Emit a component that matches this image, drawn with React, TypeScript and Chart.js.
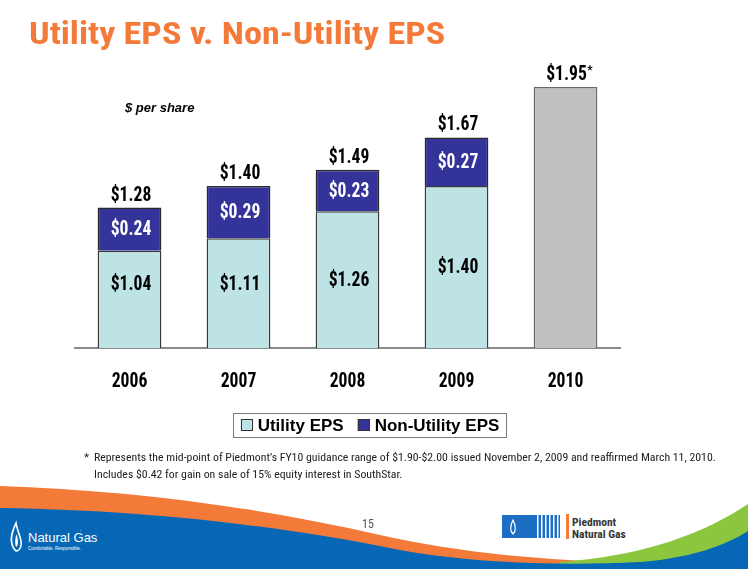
import React, { useEffect, useRef } from 'react';
import { Chart, registerables } from 'chart.js';

Chart.register(...registerables);

// ---------- data ----------
const years = ['2006', '2007', '2008', '2009', '2010'];
const utilityEPS = [1.04, 1.11, 1.26, 1.40, null];
const nonUtilityEPS = [0.24, 0.29, 0.23, 0.27, null];
const guidanceEPS = [null, null, null, null, 1.95];
const totalLabels = ['$1.28', '$1.40', '$1.49', '$1.67', '$1.95*'];
const yMin = 0.5;
const yMax = 2.0;

const NARROW = '"Roboto Condensed", "Liberation Sans Narrow", "Arial Narrow", sans-serif';
const SANS = '"Liberation Sans", Arial, Helvetica, sans-serif';
const VALUE_FONT = `bold 20px ${NARROW}`;

function drawCondensed(ctx: any, text: string, x: number, y: number, sx: number, font: string, align = 'center') {
  ctx.save();
  ctx.font = font;
  ctx.textAlign = align;
  ctx.textBaseline = 'alphabetic';
  ctx.translate(x, y);
  ctx.scale(sx, 1);
  ctx.fillText(text, 0, 0);
  ctx.restore();
}

const labelsPlugin = {
  id: 'barLabels',
  afterDatasetsDraw(chart: any) {
    const ctx = chart.ctx;
    const area = chart.chartArea;
    ctx.save();
    chart.data.datasets.forEach((ds: any, di: number) => {
      if (!ds.inner) return;
      const meta = chart.getDatasetMeta(di);
      meta.data.forEach((bar: any, i: number) => {
        const v = ds.data[i];
        if (v == null) return;
        const { x, y, base } = bar.getProps(['x', 'y', 'base'], true);
        const bottom = Math.min(base, area.bottom);
        let cy = (y + bottom) / 2 - 1;
        if (ds.clampLabel) cy = Math.min(cy, area.bottom - 65);
        ctx.fillStyle = ds.labelColor;
        drawCondensed(ctx, '$' + v.toFixed(2), x + 1.5, cy + 7, 0.88, VALUE_FONT);
      });
    });
    // totals above bars
    years.forEach((_, i) => {
      let top = Infinity;
      let x = 0;
      chart.data.datasets.forEach((ds: any, di: number) => {
        if (ds.data[i] == null) return;
        const el = chart.getDatasetMeta(di).data[i];
        if (el.y < top) {
          top = el.y;
          x = el.x;
        }
      });
      ctx.fillStyle = '#000';
      const txt = totalLabels[i];
      if (txt.endsWith('*')) {
        const main = txt.slice(0, -1);
        ctx.font = VALUE_FONT;
        const w = ctx.measureText(main).width * 0.88;
        drawCondensed(ctx, main, x + 1, top - 7, 0.88, VALUE_FONT);
        drawCondensed(ctx, '*', x + 1 + w / 2 + 0.5, top - 13, 0.9, `bold 13px ${NARROW}`, 'left');
      } else {
        drawCondensed(ctx, txt, x + 1.5, top - 7, 0.88, VALUE_FONT);
      }
    });
    ctx.restore();
  },
  afterDraw(chart: any) {
    const ctx = chart.ctx;
    const area = chart.chartArea;
    // x tick labels, drawn condensed at the scale's tick positions
    const xs = chart.scales.x;
    ctx.save();
    ctx.fillStyle = '#000';
    xs.ticks.forEach((t: any, i: number) => {
      const px = xs.getPixelForTick(i);
      drawCondensed(ctx, String(xs.getLabelForValue(t.value)), px, area.bottom + 39, 0.84, `bold 21px ${NARROW}`);
    });
    ctx.restore();

    // legend with frame
    const items = chart.data.datasets.filter((d: any) => d.showInLegend);
    ctx.save();
    ctx.font = `bold 17px ${SANS}`;
    const box = 12;
    const gap = 5;
    const itemGap = 14;
    const widths = items.map((d: any) => box + gap + ctx.measureText(d.label).width);
    const total = widths.reduce((a: number, b: number) => a + b, 0) + itemGap * (items.length - 1);
    const cx = chart.width / 2 - 4;
    const cy = area.bottom + 77;
    const left = cx - total / 2;
    ctx.strokeStyle = '#7a7a7a';
    ctx.lineWidth = 1;
    ctx.strokeRect(Math.round(left - 8) + 0.5, Math.round(cy - 12) + 0.5, Math.round(total + 14), 24);
    let x = left;
    items.forEach((d: any, k: number) => {
      ctx.fillStyle = d.backgroundColor;
      ctx.fillRect(x, cy - box / 2, box, box);
      ctx.strokeStyle = '#333';
      ctx.lineWidth = 1;
      ctx.strokeRect(Math.round(x) + 0.5, Math.round(cy - box / 2) + 0.5, box - 1, box - 1);
      ctx.fillStyle = '#000';
      ctx.textAlign = 'left';
      ctx.textBaseline = 'middle';
      ctx.fillText(d.label, x + box + gap, cy + 1);
      x += widths[k] + itemGap;
    });
    ctx.restore();
  },
};

function EpsChart() {
  const ref = useRef<HTMLCanvasElement | null>(null);
  useEffect(() => {
    if (!ref.current) return;
    const chart = new Chart(ref.current, {
      type: 'bar',
      data: {
        labels: years,
        datasets: [
          {
            label: 'Utility EPS',
            data: utilityEPS,
            backgroundColor: '#BDE3E5',
            borderColor: '#3a3a3a',
            borderWidth: 1.5,
            clip: 0,
            showInLegend: true,
            inner: true,
            clampLabel: true,
            labelColor: '#000',
          } as any,
          {
            label: 'Non-Utility EPS',
            data: nonUtilityEPS,
            backgroundColor: '#333399',
            borderColor: '#2a2a2a',
            borderWidth: 1.5,
            clip: 0,
            showInLegend: true,
            inner: true,
            labelColor: '#fff',
          } as any,
          {
            label: 'FY10 Guidance',
            data: guidanceEPS,
            backgroundColor: '#C0C0C0',
            borderColor: '#6a6a6a',
            borderWidth: 1.5,
            clip: 0,
            showInLegend: false,
            inner: false,
          } as any,
        ],
      },
      options: {
        animation: false,
        responsive: false,
        maintainAspectRatio: false,
        datasets: { bar: { barPercentage: 0.585, categoryPercentage: 1 } },
        layout: { padding: { left: 75, right: 128, top: 78, bottom: 155 } },
        plugins: { legend: { display: false }, tooltip: { enabled: false } },
        scales: {
          x: {
            stacked: true,
            z: 1,
            grid: { display: false, drawTicks: false },
            border: { display: true, color: '#8a8a8a', width: 2 },
            ticks: { color: 'rgba(0,0,0,0)', font: { family: NARROW, size: 20, weight: 'bold' }, padding: 21 },
          },
          y: { stacked: true, display: false, min: yMin, max: yMax },
        },
      } as any,
      plugins: [labelsPlugin],
    });
    return () => chart.destroy();
  }, []);
  return (
    <canvas
      ref={ref}
      width={748}
      height={569}
      style={{ position: 'absolute', left: 0, top: 0, width: 748, height: 569 }}
    />
  );
}

function Decorations() {
  return (
    <svg width={748} height={569} style={{ position: 'absolute', left: 0, top: 0 }}>
      <path d="M0,486 C120,490 250,505 380,535 C450,550 520,560 640,563 L640,569 L0,569 Z" fill="#F47A3A" />
      <path d="M560,562 C640,556 700,536 748,504 L748,569 L560,569 Z" fill="#8CC63E" />
      <path d="M0,508 C150,510 280,526 400,550 C470,563 560,566 640,562 C690,558 725,546 748,531 L748,569 L0,569 Z" fill="#0567B5" />
      {/* Natural Gas logo */}
      <path d="M16,523 C12,532 10,538 12,544 C13,549 16,551 17,551 C20,550 22,546 21,541 C20,535 17,530 16,523 Z" fill="none" stroke="#fff" strokeWidth={1.6} />
      <path d="M16.5,534 C15,539 14.5,543 16,547 C18,546 19,542 16.5,534 Z" fill="#fff" />
      <text x={28} y={542} fill="#fff" fontFamily={SANS} fontSize={13}>Natural Gas</text>
      <text x={80} y={534} fill="#fff" fontFamily={SANS} fontSize={5}>’</text>
      <text x={28} y={550} fill="#fff" fontFamily={SANS} fontSize={4.5}>Comfortable. Responsible.</text>
      {/* Piedmont logo */}
      <rect x={502} y={515} width={58} height={23} fill="#1B6EC2" />
      {[537, 541, 545, 549, 553, 557].map((sx) => (
        <rect key={sx} x={sx} y={515} width={1.5} height={23} fill="#fff" />
      ))}
      <path d="M513,520 C510,526 510,531 513,534 C516,531 516,526 513,520 Z" fill="none" stroke="#fff" strokeWidth={1.2} />
      <rect x={566} y={514} width={3} height={25} fill="#F47A3A" />
      <text x={572} y={526} fill="#333" fontFamily={NARROW} fontSize={11.5} fontWeight="bold">Piedmont</text>
      <text x={572} y={538} fill="#333" fontFamily={NARROW} fontSize={11.5} fontWeight="bold">Natural Gas</text>
    </svg>
  );
}

export default function App() {
  return (
    <div
      style={{
        position: 'absolute',
        left: 0,
        top: 0,
        width: 748,
        height: 569,
        overflow: 'hidden',
        background: '#fff',
      }}
    >
      <Decorations />
      <EpsChart />
      <div
        style={{
          position: 'absolute',
          left: 29,
          top: 17,
          fontFamily: NARROW,
          fontWeight: 'bold',
          fontSize: 32,
          lineHeight: '32px',
          color: '#F47A3A',
          whiteSpace: 'nowrap',
          transform: 'scaleX(1.13)',
          transformOrigin: 'left top',
        }}
      >
        Utility EPS v. Non-Utility EPS
      </div>
      <div
        style={{
          position: 'absolute',
          left: 125,
          top: 100,
          fontFamily: SANS,
          fontWeight: 'bold',
          fontStyle: 'italic',
          fontSize: 13,
          lineHeight: '16px',
          color: '#000',
          whiteSpace: 'nowrap',
        }}
      >
        $ per share
      </div>
      <div
        style={{
          position: 'absolute',
          left: 84,
          top: 449,
          fontFamily: NARROW,
          fontSize: 11.8,
          lineHeight: '17px',
          color: '#222',
          whiteSpace: 'nowrap',
        }}
      >
        <div>
          <span style={{ display: 'inline-block', width: 10 }}>*</span>
          Represents the mid-point of Piedmont’s FY10 guidance range of $1.90-$2.00 issued November 2, 2009 and reaffirmed March 11, 2010.
        </div>
        <div style={{ paddingLeft: 10 }}>Includes $0.42 for gain on sale of 15% equity interest in SouthStar.</div>
      </div>
      <div
        style={{
          position: 'absolute',
          left: 362,
          top: 516,
          fontFamily: NARROW,
          fontSize: 12,
          lineHeight: '16px',
          color: '#555',
        }}
      >
        15
      </div>
    </div>
  );
}
